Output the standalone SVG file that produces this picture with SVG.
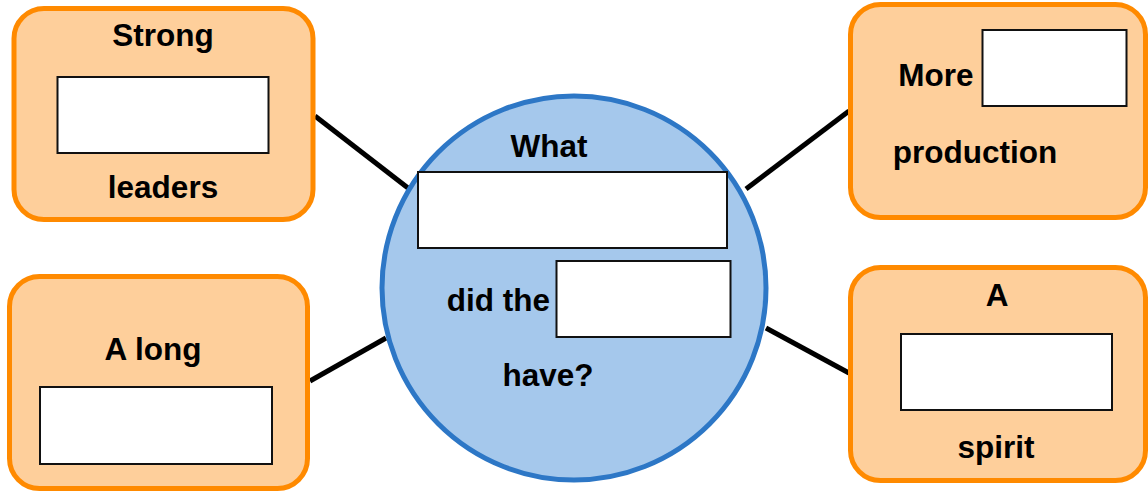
<svg xmlns="http://www.w3.org/2000/svg" width="1148" height="491" viewBox="0 0 1148 491">
<style>
.box{fill:#FECF9B;stroke:#FF8A00;stroke-width:5}
.blank{fill:#FFFFFF;stroke:#111111;stroke-width:2}
.hub{fill:#A5C8EC;stroke:#2D77C6;stroke-width:5}
.t{font-family:"Liberation Sans",Arial,sans-serif;font-weight:bold;font-size:31.5px;fill:#000000}
.c{stroke:#000000;stroke-width:5;fill:none}
</style>
<rect width="1148" height="491" fill="#FFFFFF"/>
<g id="connectors">
<line class="c" x1="315" y1="116" x2="408" y2="188"/>
<line class="c" x1="746" y1="189" x2="849" y2="111"/>
<line class="c" x1="310" y1="381" x2="386" y2="338"/>
<line class="c" x1="766" y1="328" x2="849" y2="373"/>
</g>
<g id="hub">
<circle class="hub" cx="574" cy="288" r="192"/>
<text class="t" x="549" y="157" text-anchor="middle">What</text>
<rect class="blank" x="418" y="172" width="309" height="76"/>
<text class="t" x="550" y="311" text-anchor="end">did the</text>
<rect class="blank" x="556.5" y="261" width="174" height="76"/>
<text class="t" x="548" y="386" text-anchor="middle">have?</text>
</g>
<g id="node-strong-leaders">
<rect class="box" x="14" y="8.5" width="299" height="211" rx="30"/>
<text class="t" x="163" y="46" text-anchor="middle">Strong</text>
<rect class="blank" x="57.5" y="77" width="211" height="76"/>
<text class="t" x="163" y="198" text-anchor="middle">leaders</text>
</g>
<g id="node-more-production">
<rect class="box" x="850.5" y="4.5" width="295" height="213" rx="30"/>
<text class="t" x="936" y="86" text-anchor="middle">More</text>
<rect class="blank" x="982.5" y="30" width="144" height="76"/>
<text class="t" x="975" y="163" text-anchor="middle">production</text>
</g>
<g id="node-a-long">
<rect class="box" x="9.5" y="276.5" width="298" height="212" rx="30"/>
<text class="t" x="153" y="360" text-anchor="middle">A long</text>
<rect class="blank" x="40" y="387" width="232" height="77"/>
</g>
<g id="node-a-spirit">
<rect class="box" x="850.5" y="267.5" width="295" height="213" rx="30"/>
<text class="t" x="997" y="306" text-anchor="middle">A</text>
<rect class="blank" x="901" y="334" width="211" height="76"/>
<text class="t" x="996" y="458" text-anchor="middle">spirit</text>
</g>
</svg>
